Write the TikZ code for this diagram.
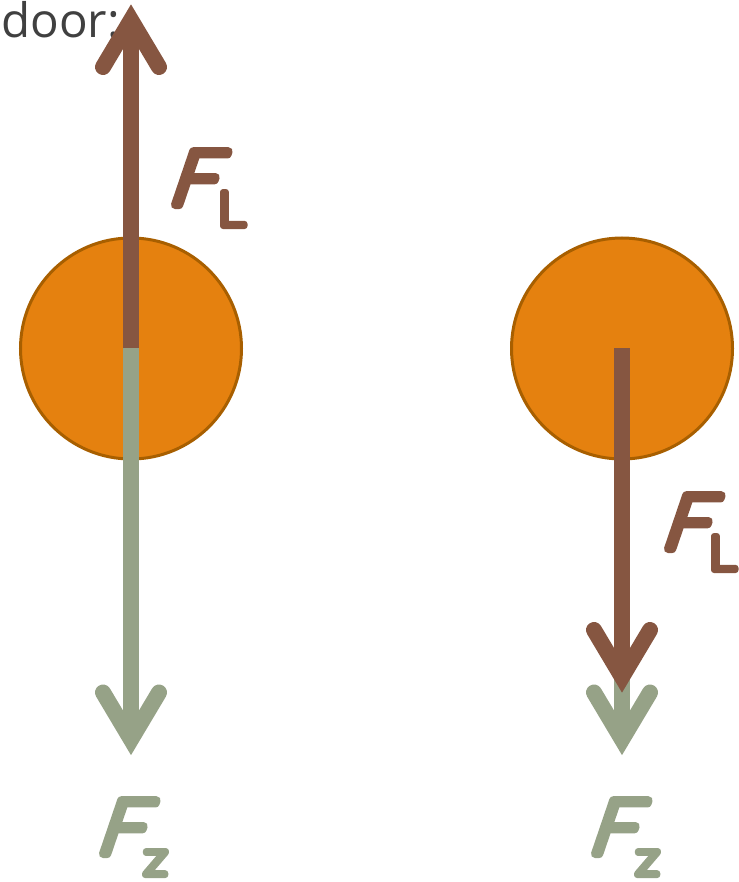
\documentclass[tikz,border=0pt]{standalone}
\usepackage{fontspec}
\setmainfont{Open Sans}
\newfontfamily\labelfont[FakeSlant=0.34,FakeStretch=1.1]{Lato Light}
\newfontfamily\subfont[FakeStretch=1.16]{Lato Light}
\definecolor{brownforce}{HTML}{865641}
\definecolor{greenforce}{HTML}{96A287}
\definecolor{ballfill}{HTML}{E5810F}
\definecolor{ballline}{HTML}{A85F00}
\definecolor{doortext}{HTML}{404040}
\newcommand{\roundglyph}[2]{\special{pdf:code q 2 Tr #1 w 1 J 1 j}#2\special{pdf:code Q}}
\tikzset{
  ball/.style={circle,draw=ballline,fill=ballfill,line width=3pt,minimum size=221pt,inner sep=0pt},
  shaft/.style={line width=16pt,line cap=butt},
  headstroke/.style={line width=16pt,line cap=round,line join=miter,miter limit=10},
  bigF/.style={inner sep=0pt,anchor=base west,font=\labelfont\fontsize{76}{76}\selectfont},
  subL/.style={inner sep=0pt,anchor=base west,font=\subfont\fontsize{48}{48}\selectfont},
}
\begin{document}
\begin{tikzpicture}[x=1pt,y=-1pt]
\useasboundingbox (0,0) rectangle (738,882);
\node[inner sep=0pt,anchor=base west,text=doortext,font=\fontsize{47.5}{47.5}\selectfont] (door) at (1,38) {door:};
\node[ball] (ballA) at (131,348.5) {};
\node[ball] (ballB) at (622,348.5) {};
\coordinate (jA) at (131,348);
\coordinate (jB) at (622,348);
% left green
\coordinate (gA) at (131,739.5);
\coordinate (gAl) at (103,692.5);
\coordinate (gAr) at (159,692.5);
\draw[greenforce,shaft] (jA) -- (gA);
\draw[greenforce,headstroke] (gAl) -- (gA) -- (gAr);
% left brown
\coordinate (bA) at (131,20);
\coordinate (bAl) at (103,67);
\coordinate (bAr) at (159,67);
\draw[brownforce,shaft] (jA) -- (bA);
\draw[brownforce,headstroke] (bAl) -- (bA) -- (bAr);
% right green
\coordinate (gB) at (622,739.5);
\coordinate (gBl) at (594,692.5);
\coordinate (gBr) at (650,692.5);
\draw[greenforce,shaft] (jB) -- (gB);
\draw[greenforce,headstroke] (gBl) -- (gB) -- (gBr);
% right brown
\coordinate (bB) at (622,677);
\coordinate (bBl) at (594,630);
\coordinate (bBr) at (650,630);
\draw[brownforce,shaft] (jB) -- (bB);
\draw[brownforce,headstroke] (bBl) -- (bB) -- (bBr);
% labels
\node[bigF,text=brownforce] (f1) at (166,205) {\roundglyph{8}{F}};
\node[subL,text=brownforce] (l1) at (217,226) {\roundglyph{6}{L}};
\node[bigF,text=brownforce] (f2) at (659,549) {\roundglyph{8}{F}};
\node[subL,text=brownforce] (l2) at (708,570) {\roundglyph{6}{L}};
\node[bigF,text=greenforce] (f3) at (94,854) {\roundglyph{8}{F}};
\node[subL,text=greenforce] (z1) at (143,875) {\roundglyph{6}{z}};
\node[bigF,text=greenforce] (f4) at (586,854) {\roundglyph{8}{F}};
\node[subL,text=greenforce] (z2) at (635,875) {\roundglyph{6}{z}};
\end{tikzpicture}
\end{document}
